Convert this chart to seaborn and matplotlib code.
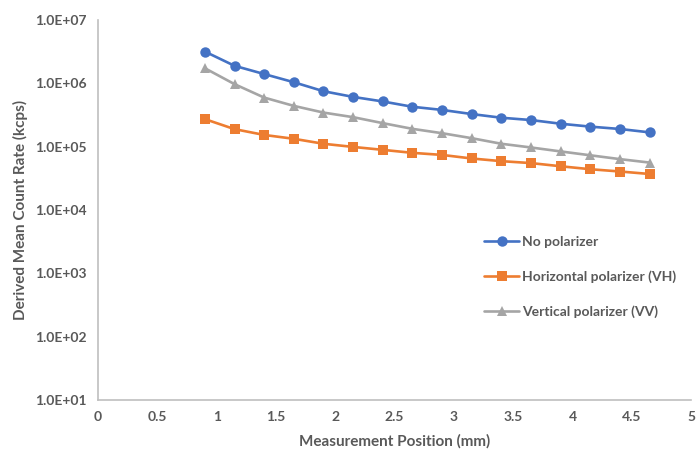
import numpy as np
import pandas as pd
import matplotlib
matplotlib.use("Agg")
import matplotlib.pyplot as plt
from matplotlib.ticker import FuncFormatter, FixedLocator, NullLocator
import seaborn as sns

# measurement positions (mm)
position = [0.9, 1.15, 1.4, 1.65, 1.9, 2.15, 2.4, 2.65, 2.9, 3.15, 3.4, 3.65, 3.9, 4.15, 4.4, 4.65]

# derived mean count rate (kcps)
no_pol = [3.17e6, 1.89e6, 1.40e6, 1.04e6, 7.5e5, 6.1e5, 5.17e5, 4.26e5,
          3.80e5, 3.27e5, 2.86e5, 2.63e5, 2.30e5, 2.07e5, 1.90e5, 1.68e5]
horiz_pol = [2.72e5, 1.89e5, 1.53e5, 1.33e5, 1.11e5, 9.9e4, 8.9e4, 7.98e4,
             7.4e4, 6.5e4, 5.9e4, 5.5e4, 4.9e4, 4.4e4, 4.05e4, 3.7e4]
vert_pol = [1.73e6, 9.7e5, 5.95e5, 4.4e5, 3.45e5, 2.92e5, 2.35e5, 1.91e5,
            1.63e5, 1.36e5, 1.11e5, 9.7e4, 8.4e4, 7.3e4, 6.35e4, 5.6e4]

series_names = ["No polarizer", "Horizontal polarizer (VH)", "Vertical polarizer (VV)"]
colores = ["#4472C4", "#ED7D31", "#A5A5A5"]
marcadores = ["o", "s", "^"]

df = pd.DataFrame({
    "pos": position * 3,
    "rate": no_pol + horiz_pol + vert_pol,
    "serie": [series_names[0]] * 16 + [series_names[1]] * 16 + [series_names[2]] * 16,
})

sns.set_style("white")
plt.rcParams["font.family"] = ["Lato", "DejaVu Sans"]

fig = plt.figure(figsize=(6.96, 4.54), dpi=100)
ax = fig.add_axes([0.141, 0.119, 0.852, 0.837])

sns.lineplot(data=df, x="pos", y="rate", hue="serie", style="serie",
             palette=colores, markers=marcadores, dashes=False,
             markersize=7.5, markeredgewidth=0, linewidth=1.9, ax=ax)

ax.set_yscale("log")
ax.set_ylim(10, 1e7)
ax.set_xlim(0, 5)
ax.yaxis.set_major_locator(FixedLocator([1e1, 1e2, 1e3, 1e4, 1e5, 1e6, 1e7]))
ax.yaxis.set_minor_locator(NullLocator())
ax.yaxis.set_major_formatter(FuncFormatter(lambda v, p: "1.0E+%02d" % int(round(np.log10(v)))))
ax.set_xticks(np.arange(0, 5.01, 0.5))
ax.xaxis.set_major_formatter(FuncFormatter(lambda v, p: ("%g" % v)))

gris = "#595959"
for s in ["top", "right"]:
    ax.spines[s].set_visible(False)
for s in ["left", "bottom"]:
    ax.spines[s].set_color("#BFBFBF")
    ax.spines[s].set_linewidth(1.2)
ax.tick_params(axis="both", length=0, labelsize=10, labelcolor=gris, pad=8)
for lab in ax.get_yticklabels() + ax.get_xticklabels():
    lab.set_fontweight("bold")

ax.set_xlabel("Measurement Position (mm)", fontsize=11, fontweight="bold", color=gris, labelpad=8)
ax.set_ylabel("Derived Mean Count Rate (kcps)", fontsize=11, fontweight="bold", color=gris, labelpad=5)

leg = ax.legend(loc="upper left", bbox_to_anchor=(0.63, 0.465), frameon=False,
                fontsize=10, labelspacing=1.6, handlelength=2.5, handletextpad=0.2)
for t in leg.get_texts():
    t.set_color(gris)
    t.set_fontweight("bold")

fig.savefig("out.png", dpi=100)
